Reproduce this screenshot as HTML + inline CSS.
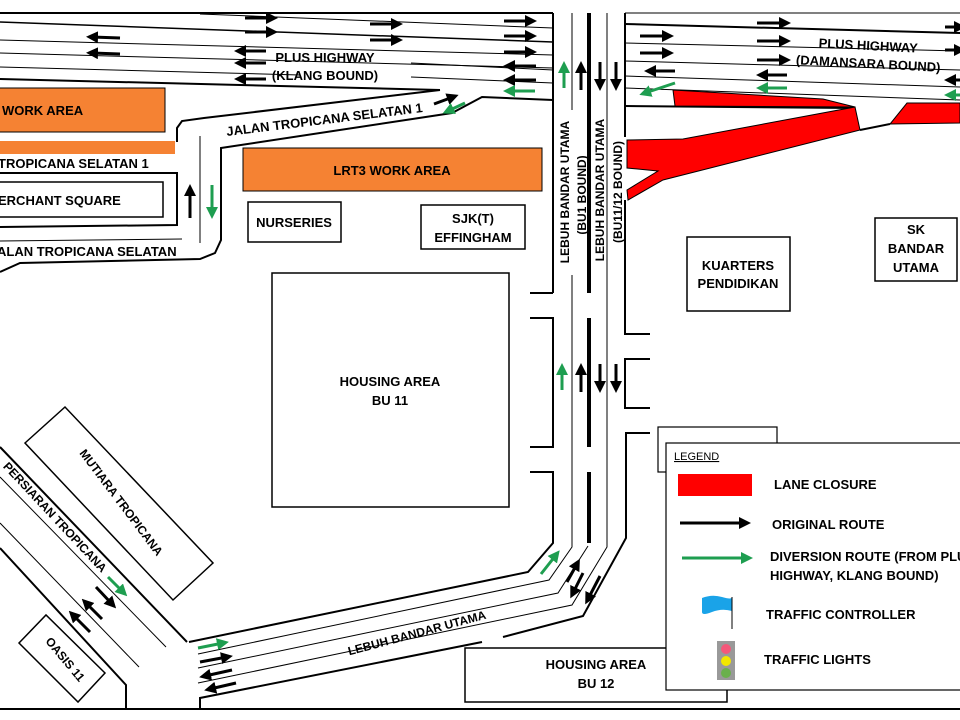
<!DOCTYPE html>
<html><head><meta charset="utf-8"><style>
html,body{margin:0;padding:0;background:#fff;}
svg{display:block;font-family:"Liberation Sans",sans-serif;font-weight:bold;}
</style></head><body>
<svg width="960" height="720" viewBox="0 0 960 720" xmlns="http://www.w3.org/2000/svg">
<defs>
<marker id="ab" markerWidth="4" markerHeight="4" refX="2" refY="2" orient="auto" markerUnits="strokeWidth"><path d="M0,0 L4,2 L0,4z" fill="#000"/></marker>
<marker id="ag" markerWidth="4" markerHeight="4" refX="2" refY="2" orient="auto" markerUnits="strokeWidth"><path d="M0,0 L4,2 L0,4z" fill="#1e9e50"/></marker>
</defs>
<rect width="960" height="720" fill="#fff"/>
<g stroke="#000" fill="none">
<line x1="0" y1="13" x2="553" y2="13" stroke-width="2"/>
<line x1="200" y1="14" x2="553" y2="28" stroke-width="1"/>
<line x1="0" y1="22" x2="553" y2="42" stroke-width="1.5"/>
<line x1="0" y1="40" x2="553" y2="55" stroke-width="1"/>
<line x1="0" y1="53" x2="553" y2="68" stroke-width="1"/>
<line x1="0" y1="67" x2="300" y2="75" stroke-width="1"/>
<line x1="411" y1="63" x2="553" y2="70" stroke-width="1"/>
<line x1="411" y1="77" x2="553" y2="83" stroke-width="1"/>
<line x1="0" y1="79" x2="440" y2="90" stroke-width="2"/>
<polyline points="440,90 204,118 182,121 177,128 177,142" stroke-width="2"/>
<polyline points="553,100 482,97 452,113 221,148 221,240 215,253 200,259 20,263 0,272" stroke-width="2"/>
<line x1="200" y1="136" x2="200" y2="243" stroke-width="1"/>
<polyline points="0,173 177,173 177,225 0,227" stroke-width="2"/>
<line x1="0" y1="241" x2="182" y2="239" stroke-width="1"/>
<line x1="553" y1="13" x2="553" y2="293" stroke-width="2"/>
<polyline points="530,293 553,293" stroke-width="2"/>
<polyline points="530,318 553,318 553,447 530,447" stroke-width="2"/>
<polyline points="530,472 553,472 553,543 528,572 189,642" stroke-width="2"/>
<polyline points="572,13 572,110" stroke-width="1"/>
<polyline points="572,275 572,547 549,580 198,654" stroke-width="1"/>
<polyline points="588,546 558,593 198,668" stroke-width="1"/>
<line x1="589" y1="13" x2="589" y2="293" stroke-width="4"/>
<line x1="589" y1="318" x2="589" y2="447" stroke-width="4"/>
<line x1="589" y1="472" x2="589" y2="543" stroke-width="4"/>
<polyline points="607,13 607,547 572,605 198,683" stroke-width="1"/>
<line x1="625" y1="13" x2="625" y2="137" stroke-width="2"/>
<polyline points="625,200 625,334 650,334" stroke-width="2"/>
<polyline points="650,359 625,359 625,408 650,408" stroke-width="2"/>
<polyline points="650,433 626,433 626,538 583,616 503,637" stroke-width="2"/>
<polyline points="482,642 200,698 200,709" stroke-width="2"/>
<line x1="625" y1="13" x2="960" y2="13" stroke-width="1"/>
<line x1="625" y1="24" x2="960" y2="33" stroke-width="2"/>
<line x1="625" y1="43" x2="960" y2="51" stroke-width="1"/>
<line x1="625" y1="61" x2="960" y2="70" stroke-width="1"/>
<line x1="625" y1="76" x2="960" y2="87" stroke-width="1"/>
<line x1="625" y1="88" x2="960" y2="100" stroke-width="1"/>
<line x1="625" y1="106" x2="855" y2="108" stroke-width="2"/>
<polyline points="0,447 187,642" stroke-width="2"/>
<line x1="0" y1="477" x2="166" y2="647" stroke-width="1"/>
<line x1="0" y1="523" x2="139" y2="667" stroke-width="1"/>
<polyline points="0,548 126,685 126,709" stroke-width="2"/>
<line x1="0" y1="709" x2="960" y2="709" stroke-width="2"/>
</g>
<g fill="#f00" stroke="#000" stroke-width="1">
<polygon points="673,90 823,99 855,107 675,106"/>
<polygon points="627,140 683,139 855,107 860,130 663,180 628,200 627,190 658,171 627,168"/>
<polygon points="907,103 960,103 960,123 890,124"/>
</g>
<line x1="860" y1="130" x2="890" y2="124" stroke="#000" stroke-width="2"/>
<g fill="none" stroke="#000" stroke-width="1.5">
<rect x="248" y="202" width="93" height="40"/>
<rect x="421" y="205" width="104" height="44"/>
<rect x="272" y="273" width="237" height="234"/>
<rect x="687" y="237" width="103" height="74"/>
<rect x="875" y="218" width="82" height="63"/>
<rect x="-2" y="182" width="165" height="35"/>
<rect x="465" y="648" width="262" height="54"/>
<polygon points="25,443 65,407 213,563 173,600"/>
<polygon points="19,643 46,615 105,673 78,702"/>
</g>
<rect x="-2" y="88" width="167" height="44" fill="#f58233" stroke="#000"/>
<rect x="0" y="141" width="175" height="13" fill="#f58233"/>
<rect x="243" y="148" width="299" height="43" fill="#f58233" stroke="#000"/>
<g stroke="#000" stroke-width="3" marker-end="url(#ab)">
<line x1="245" y1="18" x2="272" y2="18"/><line x1="245" y1="32" x2="272" y2="32"/>
<line x1="370" y1="24" x2="397" y2="24"/><line x1="370" y1="40" x2="397" y2="40"/>
<line x1="504" y1="21" x2="531" y2="21"/><line x1="504" y1="36" x2="531" y2="36"/><line x1="504" y1="52" x2="531" y2="52"/>
<line x1="536" y1="66" x2="509" y2="66"/><line x1="536" y1="80" x2="509" y2="80"/>
<line x1="266" y1="51" x2="240" y2="51"/><line x1="266" y1="63" x2="240" y2="63"/><line x1="266" y1="79" x2="240" y2="79"/>
<line x1="120" y1="38" x2="92" y2="37"/><line x1="120" y1="54" x2="92" y2="53"/>
<line x1="434" y1="104" x2="453" y2="97"/>
<line x1="190" y1="218" x2="190" y2="190"/>
<line x1="581" y1="90" x2="581" y2="67"/><line x1="600" y1="62" x2="600" y2="85"/><line x1="616" y1="62" x2="616" y2="85"/>
<line x1="581" y1="392" x2="581" y2="369"/><line x1="600" y1="364" x2="600" y2="387"/><line x1="616" y1="364" x2="616" y2="387"/>
<line x1="640" y1="36" x2="668" y2="36"/><line x1="640" y1="53" x2="668" y2="53"/>
<line x1="757" y1="23" x2="785" y2="23"/><line x1="757" y1="41" x2="785" y2="41"/><line x1="757" y1="60" x2="785" y2="60"/>
<line x1="675" y1="71" x2="650" y2="71"/><line x1="787" y1="75" x2="762" y2="75"/>
<line x1="945" y1="27" x2="960" y2="27"/><line x1="945" y1="50" x2="960" y2="50"/><line x1="960" y1="80" x2="950" y2="80"/>
<line x1="567" y1="582" x2="577" y2="564"/><line x1="583" y1="573" x2="573" y2="593"/><line x1="600" y1="576" x2="588" y2="599"/>
<line x1="200" y1="662" x2="227" y2="657"/><line x1="232" y1="670" x2="205" y2="676"/><line x1="236" y1="683" x2="210" y2="689"/>
<line x1="96" y1="587" x2="112" y2="604"/><line x1="102" y1="619" x2="86" y2="603"/><line x1="90" y1="632" x2="73" y2="615"/>
</g>
<g stroke="#1e9e50" stroke-width="3" marker-end="url(#ag)">
<line x1="535" y1="91" x2="509" y2="91"/>
<line x1="465" y1="103" x2="448" y2="111"/>
<line x1="212" y1="185" x2="212" y2="213"/>
<line x1="564" y1="88" x2="564" y2="67"/>
<line x1="562" y1="390" x2="562" y2="369"/>
<line x1="787" y1="88" x2="762" y2="88"/>
<line x1="675" y1="83" x2="645" y2="93"/>
<line x1="960" y1="95" x2="950" y2="95"/>
<line x1="541" y1="574" x2="556" y2="555"/>
<line x1="198" y1="648" x2="223" y2="643"/>
<line x1="108" y1="577" x2="123" y2="592"/>
</g>
<g font-size="13" fill="#000" text-anchor="middle">
<text x="325" y="62">PLUS HIGHWAY</text>
<text x="325" y="80">(KLANG BOUND)</text>
<text x="868" y="50" transform="rotate(3 868 50)">PLUS HIGHWAY</text>
<text x="868" y="68" transform="rotate(3 868 68)">(DAMANSARA BOUND)</text>
<text x="325" y="124" transform="rotate(-7 325 124)">JALAN TROPICANA SELATAN 1</text>
<text x="392" y="175">LRT3 WORK AREA</text>
<text x="294" y="227">NURSERIES</text>
<text x="473" y="223">SJK(T)</text>
<text x="473" y="242">EFFINGHAM</text>
<text x="390" y="386">HOUSING AREA</text>
<text x="390" y="405">BU 11</text>
<text x="738" y="270">KUARTERS</text>
<text x="738" y="288">PENDIDIKAN</text>
<text x="916" y="234">SK</text>
<text x="916" y="253">BANDAR</text>
<text x="916" y="272">UTAMA</text>
<text x="596" y="669">HOUSING AREA</text>
<text x="596" y="688">BU 12</text>
<text x="418" y="637" font-size="12" transform="rotate(-15 418 637)">LEBUH BANDAR UTAMA</text>
<text x="118" y="505" font-size="12" transform="rotate(53 118 505)">MUTIARA TROPICANA</text>
<text x="62" y="662" font-size="12" transform="rotate(50 62 662)">OASIS 11</text>
<text x="52" y="520" font-size="12" transform="rotate(47 52 520)">PERSIARAN TROPICANA</text>
<text x="565" y="192" font-size="12" transform="rotate(-90 565 192)" dy="4">LEBUH BANDAR UTAMA</text>
<text x="582" y="195" font-size="12" transform="rotate(-90 582 195)" dy="4">(BU1 BOUND)</text>
<text x="600" y="190" font-size="12" transform="rotate(-90 600 190)" dy="4">LEBUH BANDAR UTAMA</text>
<text x="618" y="192" font-size="12" transform="rotate(-90 618 192)" dy="4">(BU11/12 BOUND)</text>
</g>
<g font-size="13" fill="#000">
<text x="2" y="115">WORK AREA</text>
<text x="-2" y="168">TROPICANA SELATAN 1</text>
<text x="-2" y="205">ERCHANT SQUARE</text>
<text x="-3" y="256">ALAN TROPICANA SELATAN</text>
</g>
<rect x="658" y="427" width="119" height="45" fill="#fff" stroke="#000" stroke-width="1.2"/>
<rect x="666" y="443" width="300" height="247" fill="#fff" stroke="#000" stroke-width="1.2"/>
<text x="674" y="460" font-size="11" font-weight="normal" text-decoration="underline">LEGEND</text>
<rect x="678" y="474" width="74" height="22" fill="#f00"/>
<line x1="680" y1="523" x2="745" y2="523" stroke="#000" stroke-width="3" marker-end="url(#ab)"/>
<line x1="682" y1="558" x2="747" y2="558" stroke="#1e9e50" stroke-width="3" marker-end="url(#ag)"/>
<path d="M702,598 Q712,594 722,597 T732,597 L732,611 Q722,608 712,612 T702,612 Z" fill="#1aa3e8"/>
<line x1="732" y1="597" x2="732" y2="629" stroke="#000" stroke-width="1"/>
<rect x="717" y="641" width="18" height="39" fill="#999"/>
<circle cx="726" cy="649" r="5" fill="#f4577a"/>
<circle cx="726" cy="661" r="5" fill="#f2e600"/>
<circle cx="726" cy="673" r="5" fill="#6ab04c"/>
<g font-size="13" fill="#000">
<text x="774" y="489">LANE CLOSURE</text>
<text x="772" y="529">ORIGINAL ROUTE</text>
<text x="770" y="561">DIVERSION ROUTE (FROM PLUS</text>
<text x="770" y="580">HIGHWAY, KLANG BOUND)</text>
<text x="766" y="619">TRAFFIC CONTROLLER</text>
<text x="764" y="664">TRAFFIC LIGHTS</text>
</g>
</svg>
</body></html>
